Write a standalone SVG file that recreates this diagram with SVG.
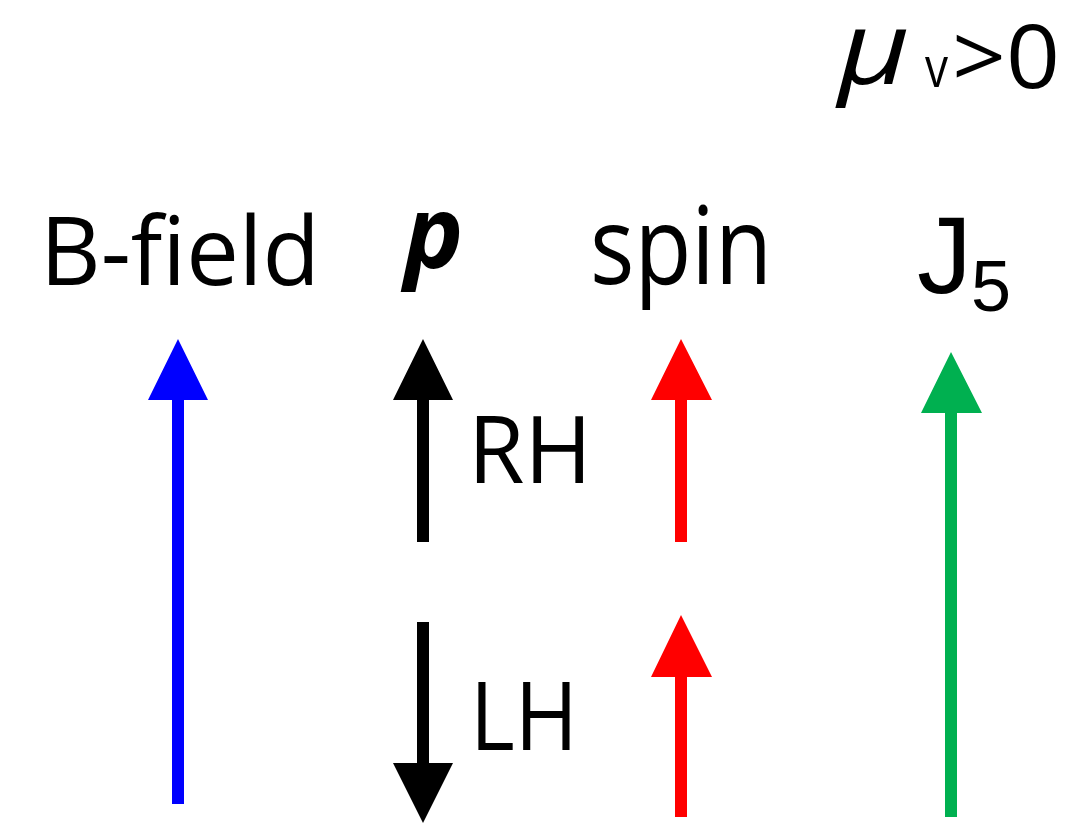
<svg xmlns="http://www.w3.org/2000/svg" width="1081" height="824" viewBox="0 0 1081 824">
<style>
.t{font-family:"Open Sans","Noto Sans","Liberation Sans",sans-serif;fill:#000}
.a{font-family:"Liberation Sans",Arial,sans-serif;fill:#000}
</style>
<rect width="1081" height="824" fill="#fff"/>
<g id="label-mu">
<text class="t" x="838" y="84" font-size="100" font-style="italic" textLength="72" lengthAdjust="spacingAndGlyphs">μ</text>
<text class="t" x="925" y="87" font-size="56" textLength="23" lengthAdjust="spacingAndGlyphs">v</text>
<text class="t" x="952" y="88" font-size="88" textLength="108" lengthAdjust="spacingAndGlyphs">&gt;0</text>
</g>
<g id="label-bfield"><text class="t" x="40" y="285" font-size="95" textLength="280" lengthAdjust="spacingAndGlyphs">B-field</text></g>
<g id="label-p"><text class="t" x="404" y="268" font-size="100" font-weight="bold" font-style="italic">p</text></g>
<g id="label-spin"><text class="t" x="590" y="284" font-size="108" textLength="182" lengthAdjust="spacingAndGlyphs">spin</text></g>
<g id="label-j5">
<text class="a" x="917" y="293" font-size="110">J</text>
<text class="a" x="971" y="311" font-size="72">5</text>
</g>
<g id="label-rh"><text class="t" x="468" y="483" font-size="94" textLength="124" lengthAdjust="spacingAndGlyphs">RH</text></g>
<g id="label-lh"><text class="t" x="470" y="750" font-size="96" textLength="108" lengthAdjust="spacingAndGlyphs">LH</text></g>
<g id="connectors">
<path id="arrow-b" fill="#0000FF" d="M178,339 L208,400 L184,400 L184,804 L172,804 L172,400 L148,400 Z"/>
<path id="arrow-p-up" fill="#000" d="M423,339 L453,400 L429,400 L429,542 L417,542 L417,400 L393,400 Z"/>
<path id="arrow-p-down" fill="#000" d="M423,823 L453,763 L429,763 L429,622 L417,622 L417,763 L393,763 Z"/>
<path id="arrow-spin-up" fill="#FF0000" d="M681,339 L712,400 L687,400 L687,542 L675,542 L675,400 L651,400 Z"/>
<path id="arrow-spin-low" fill="#FF0000" d="M681,615 L712,677 L687,677 L687,817 L675,817 L675,677 L651,677 Z"/>
<path id="arrow-j5" fill="#00B050" d="M951,352 L982,413 L957,413 L957,817 L945,817 L945,413 L921,413 Z"/>
</g>
</svg>
